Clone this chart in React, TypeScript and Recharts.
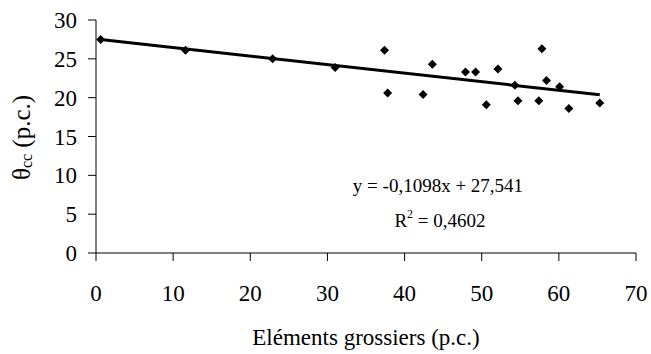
import { ScatterChart, Scatter, XAxis, YAxis } from "recharts";

const gravel = [0.6, 11.6, 22.9, 31.0, 37.4, 37.8, 42.4, 43.6, 47.9, 49.2, 50.6, 52.1, 54.3, 54.7, 57.4, 57.8, 58.4, 60.1, 61.3, 65.3];
const theta = [27.5, 26.1, 25.0, 23.9, 26.1, 20.6, 20.4, 24.3, 23.3, 23.3, 19.1, 23.7, 21.6, 19.6, 19.6, 26.3, 22.2, 21.4, 18.6, 19.3];

const slope = -0.1098;
const intercept = 27.541;
const xTicks = [0, 10, 20, 30, 40, 50, 60, 70];
const yTicks = [0, 5, 10, 15, 20, 25, 30];

const points = gravel.map((x, i) => ({ x, y: theta[i] }));
const trendX = [Math.min(...gravel), Math.max(...gravel)];
const trend = trendX.map((x) => ({ x, y: slope * x + intercept }));

const FONT = "'Liberation Serif', 'Times New Roman', serif";

function Diamond(props: any) {
  const { cx, cy } = props;
  if (cx == null || cy == null) return null;
  const r = 4.5;
  return <polygon points={`${cx},${cy - r} ${cx + r},${cy} ${cx},${cy + r} ${cx - r},${cy}`} fill="#000" />;
}

function YTitle(props: any) {
  const vb = props.viewBox || { x: 0, y: 0, height: 0 };
  const cx = 21;
  const cy = vb.y + vb.height / 2 + 1;
  return (
    <text
      x={cx}
      y={cy}
      transform={`rotate(-90, ${cx}, ${cy})`}
      textAnchor="middle"
      dominantBaseline="central"
      fontFamily={FONT}
      fontSize={25}
      fill="#000"
    >
      θ<tspan fontSize={16} dy={5}>cc</tspan>
      <tspan dy={-5}> (p.c.)</tspan>
    </text>
  );
}

export default function App() {
  return (
    <div style={{ position: "absolute", left: 0, top: 0, background: "#fff" }}>
      <ScatterChart width={651} height={354} margin={{ top: 20, right: 15, bottom: 41, left: 36 }}>
        <XAxis
          type="number"
          dataKey="x"
          domain={[0, 70]}
          ticks={xTicks}
          tickSize={8}
          tickMargin={24}
          axisLine={{ stroke: "#000" }}
          tickLine={{ stroke: "#000" }}
          tick={{ fill: "#000", fontFamily: FONT, fontSize: 23 }}
          height={60}
        />
        <YAxis
          type="number"
          dataKey="y"
          domain={[0, 30]}
          ticks={yTicks}
          tickSize={8}
          tickMargin={11}
          axisLine={{ stroke: "#000" }}
          tickLine={{ stroke: "#000" }}
          tick={{ fill: "#000", fontFamily: FONT, fontSize: 23 }}
          width={60}
          label={{ content: YTitle }}
        />
        <Scatter data={trend} line={{ stroke: "#000", strokeWidth: 3 }} shape={() => null} isAnimationActive={false} />
        <Scatter data={points} shape={Diamond} isAnimationActive={false} />
        <text x={366} y={345} textAnchor="middle" fontFamily={FONT} fontSize={23} fill="#000">
          Eléments grossiers (p.c.)
        </text>
        <text x={438} y={192} textAnchor="middle" fontFamily={FONT} fontSize={19} fill="#000">
          y = -0,1098x + 27,541
        </text>
        <text x={440} y={227} textAnchor="middle" fontFamily={FONT} fontSize={19} fill="#000">
          R<tspan fontSize={12} dy={-9}>2</tspan>
          <tspan dy={9}> = 0,4602</tspan>
        </text>
      </ScatterChart>
    </div>
  );
}
